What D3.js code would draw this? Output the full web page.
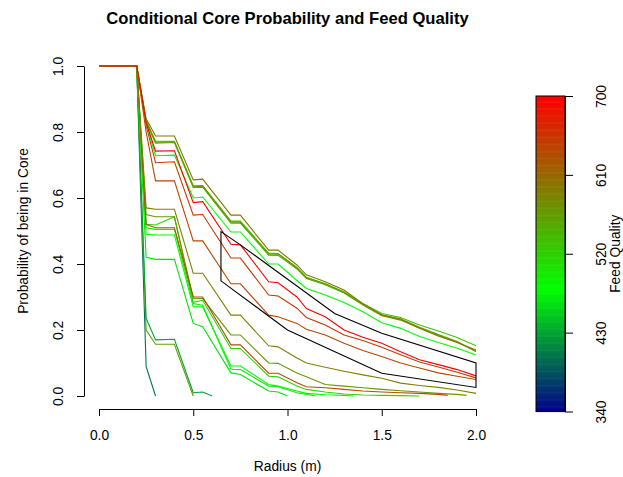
<!DOCTYPE html>
<html><head><meta charset="utf-8">
<script src="https://cdn.jsdelivr.net/npm/d3@7"></script>
<style>body{margin:0;background:#fff}svg{display:block;font-family:"Liberation Sans",Arial,Helvetica,sans-serif}</style>
</head><body><svg id="c" width="623" height="477"></svg>
<script>
const _ = null;
// radius grid (m)
const radius = [0,0.2,0.25,0.3,0.4,0.5,0.55,0.6,0.7,0.75,0.9,0.95,1.0,1.05,1.1,1.15,1.2,1.3,1.35,1.4,1.5,1.6,1.7,1.8,1.85,1.9,1.95,2.0];
// conditional core probability per feed-quality series
const pL3 = [1,1,.089,0];
const pL2 = [1,1,.2,.157,.157,0];
const pL1 = [1,1,.235,.17,.172,.01,.012,0];
const pM7 = [1,1,.42,.414,.414,.22,.21,_,.07,.065,.015,.012,0];
const pM6 = [1,1,.51,.505,.505,.28,.275,_,.081,.08,.03,.028,_,.01,.005,0];
const pM5 = [1,1,.49,.488,.488,.27,.27,_,.091,.091,.035,.03,_,.015,.008,_,.004,.002,0];
const pM4 = [1,1,.52,.518,.543,.284,.29,_,.144,.144,.06,.058,_,.03,.02,_,.012,.006,_,.003,.002,.001,0];
const pM3 = [1,1,.55,.543,.543,.296,.295,_,.185,.185,.10,.099,_,.07,.058,_,.035,.03,_,.025,.02,.016,.012,.008,_,.005,.002];
const pM2 = [1,1,.52,.51,.51,.30,.30,_,.155,.155,.069,.069,_,.04,.028,_,.025,.02,_,.015,.012,.01,.008,.005,.002];
const pM1 = [1,1,.57,.566,.566,.372,.372,_,.245,.245,.152,.149,_,.115,.10,_,.087,.075,_,.064,.054,.039,.032,.026,_,.018,_,.008];
const pU8 = [1,1,.80,.652,.652,.47,.47,_,.34,.34,.245,.24,_,.22,.202,_,.185,.16,_,.138,.12,.10,.085,.07,_,.06,_,.05];
const pU7 = [1,1,.82,.707,.71,.548,.55,_,.418,.418,.306,.303,_,.266,.238,_,.215,.185,_,.168,.148,.125,.103,.088,_,.072,_,.055];
const pU5 = [1,1,.825,.728,.73,.60,.603,_,.497,.497,.40,.40,_,.35,.326,_,.306,.283,_,.255,.222,.205,.18,.162,_,.145,_,.124];
const pU3 = [1,1,.832,.766,.768,.632,.633,_,.524,.524,.427,.426,_,.385,.356,_,.337,.312,_,.276,.243,.23,.205,.183,_,.163,_,.137];
const pU2 = [1,1,.835,.772,.772,.637,.638,_,.53,.53,.433,.432,_,.39,.36,_,.34,.316,_,.28,.25,.238,.215,.197,_,.177,_,.152];
const pU4 = [1,1,.83,.769,.77,.634,.636,_,.527,.527,.43,.43,_,.388,.358,_,.34,.314,_,.278,.246,.234,.208,.186,_,.165,_,.134];
const pU1 = [1,1,.84,.788,.788,.655,.657,_,.548,.548,.442,.442,_,.397,.367,_,.346,.321,_,.28,.245,.232,.206,.182,_,.162,_,.139];
const pU6 = [1,1,.828,.742,.743,.586,.589,_,.46,.458,.346,.343,_,.30,.265,_,.24,.20,_,.178,.16,.134,.11,.095,_,.08,_,.061];
const seriesProb = [pL3,pL2,pL1,pM7,pM6,pM5,pM4,pM3,pM2,pM1,pU8,pU7,pU5,pU3,pU2,pU4,pU1,pU6];
const feedQuality = [405,560,430,465,495,485,515,570,635,590,640,650,480,550,530,570,600,700];
// confidence band polygon
const bandR = [0.647,0.75,1.25,1.5,2.0,2.0,1.5,1.0,0.647];
const bandP = [0.498,0.458,0.25,0.19,0.10,0.026,0.069,0.20,0.349];
// ticks
const xTicks = [0,0.5,1,1.5,2];
const yTicks = [0,0.2,0.4,0.6,0.8,1];
const fqTicks = [340,430,520,610,700];
const fqStops = [340,480,700];
const fqColors = ["#00008B","#00FF00","#FF0000"];

const svg = d3.select("#c");
const x = d3.scaleLinear().domain([0,2]).range([99,476]);
const y = d3.scaleLinear().domain([0,1]).range([396,66]);
const col = d3.scaleLinear().domain(fqStops).range(fqColors).interpolate(d3.interpolateRgb);

const line = d3.line().x(d=>x(d.r)).y(d=>y(d.p));
const g = svg.append("g");
seriesProb.forEach((arr,i)=>{
  const pts = radius.map((r,j)=>({r, p:arr[j]})).filter(d=>d.p!=null);
  g.append("path").attr("d", line(pts)).attr("fill","none")
   .attr("stroke", col(feedQuality[i])).attr("stroke-width",1.1);
});
const band = bandR.map((r,i)=>({r, p:bandP[i]}));
g.append("path").attr("d", line(band)+"Z").attr("fill","none").attr("stroke","#000").attr("stroke-width",1.1);

// axes
const fs = "13.8px";
const xa = svg.append("g").attr("transform","translate(0,409)")
  .call(d3.axisBottom(x).tickValues(xTicks).tickFormat(d3.format(".1f")).tickSize(7).tickSizeOuter(0).tickPadding(14.2));
const ya = svg.append("g").attr("transform","translate(84,0)")
  .call(d3.axisLeft(y).tickValues(yTicks).tickFormat(d3.format(".1f")).tickSize(7).tickSizeOuter(0));
ya.selectAll("text").attr("transform","rotate(-90)").attr("x",0).attr("y",-21).attr("dy",null)
  .attr("text-anchor","middle");
[xa,ya].forEach(a=>{a.selectAll("text").attr("font-size",fs).attr("fill","#000").attr("font-family","Liberation Sans, Arial, sans-serif");
  a.selectAll("line,path").attr("stroke","#000");});

svg.append("text").attr("x",287.5).attr("y",24).attr("text-anchor","middle")
  .attr("font-weight","bold").attr("font-size","16.6px").text("Conditional Core Probability and Feed Quality");
svg.append("text").attr("x",287.5).attr("y",471).attr("text-anchor","middle").attr("font-size",fs).text("Radius (m)");
svg.append("text").attr("transform","translate(27.5,231) rotate(-90)").attr("text-anchor","middle").attr("font-size",fs).text("Probability of being in Core");

// colour bar
const cy = d3.scaleLinear().domain([340,700]).range([411.5,96]);
const cb = svg.append("g");
d3.range(340,700,1).forEach(v=>{
  cb.append("rect").attr("x",536).attr("width",29).attr("y",cy(v+1)).attr("height",cy(v)-cy(v+1)+0.6)
    .attr("fill",col(v+0.5));
});
cb.append("rect").attr("x",536).attr("y",cy(700)).attr("width",29).attr("height",cy(340)-cy(700))
  .attr("fill","none").attr("stroke","#000");
const ca = svg.append("g").attr("transform","translate(565,0)")
  .call(d3.axisRight(cy).tickValues(fqTicks).tickFormat(d3.format("d")).tickSize(8).tickSizeOuter(0));
ca.selectAll("text").attr("transform","rotate(-90)").attr("x",0).attr("y",41).attr("dy",null)
  .attr("text-anchor","middle").attr("font-size",fs).attr("fill","#000").attr("font-family","Liberation Sans, Arial, sans-serif");
ca.selectAll("line,path").attr("stroke","#000");
svg.append("text").attr("transform","translate(619.5,253.7) rotate(-90)").attr("text-anchor","middle").attr("font-size",fs).text("Feed Quality");
</script></body></html>
